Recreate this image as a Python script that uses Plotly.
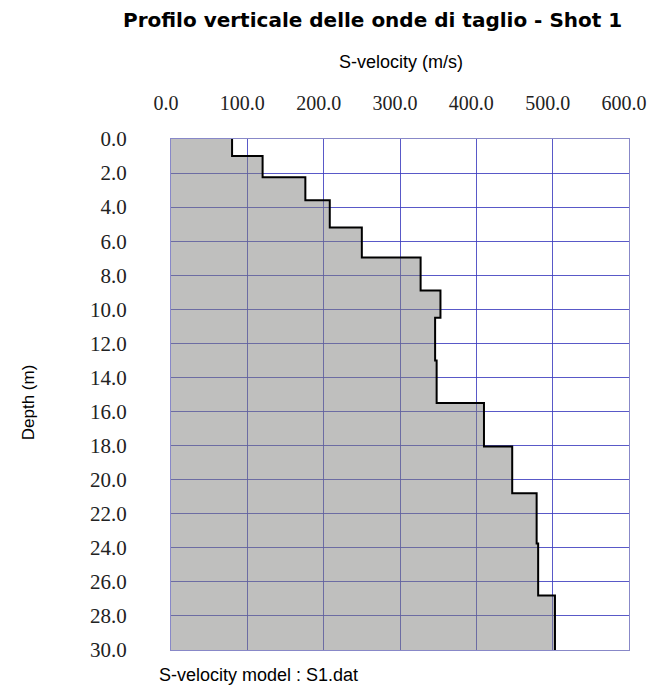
import plotly.graph_objects as go

# Layer boundaries (m) and S-wave velocity of each layer (m/s)
depth_bounds = [0.0, 1.0, 2.25, 3.6, 5.2, 6.95, 8.9, 10.5, 13.0, 15.5, 18.05, 20.8, 23.75, 26.8, 30.0]
velocities = [80, 120, 176, 208, 250, 327, 353, 346, 348, 410, 447, 479, 481, 503]

x_ticks = [0, 100, 200, 300, 400, 500, 600]
y_ticks = [0, 2, 4, 6, 8, 10, 12, 14, 16, 18, 20, 22, 24, 26, 28, 30]

# step profile built from the layer arrays
xs, ys = [], []
for i, v in enumerate(velocities):
    xs += [v, v]
    ys += [depth_bounds[i], depth_bounds[i + 1]]

fig = go.Figure()
fig.add_trace(go.Scatter(
    x=xs, y=ys, mode="lines",
    line=dict(color="black", width=2),
    fill="tozerox", fillcolor="rgba(128,128,126,0.5)",
    hoverinfo="skip", showlegend=False,
))

serif = "Liberation Serif, Times New Roman, serif"
sans = "Liberation Sans, Arial, sans-serif"
grid = "rgba(60,60,190,0.85)"

fig.update_layout(
    width=640, height=679,
    margin=dict(l=163, r=19, t=131, b=37, autoexpand=False),
    paper_bgcolor="white", plot_bgcolor="white",
    xaxis=dict(
        side="top", range=[0, 600], tickvals=x_ticks,
        ticktext=[f"{v:.1f}" for v in x_ticks],
        tickfont=dict(family=serif, size=20, color="#222"),
        showgrid=True, gridcolor=grid, gridwidth=1,
        showline=True, linecolor="#8888c8", linewidth=1, mirror=True,
        ticks="", ticklabelstandoff=20, ticklabelshift=-5, zeroline=False,
        ticklabeloverflow="allow", automargin=False,
    ),
    yaxis=dict(
        range=[30, 0], tickvals=y_ticks,
        ticktext=[f"{v:.1f}" for v in y_ticks],
        tickfont=dict(family=serif, size=21, color="#222"),
        showgrid=True, gridcolor=grid, gridwidth=1,
        showline=True, linecolor="#8888c8", linewidth=1, mirror=True,
        ticks="", ticklabelstandoff=39, zeroline=False,
        ticklabeloverflow="allow", automargin=False,
    ),
    annotations=[
        dict(text="<b>Profilo verticale delle onde di taglio - Shot 1</b>",
             xref="paper", yref="paper", x=0.441, y=1.233,
             xanchor="center", yanchor="middle",
             showarrow=False, font=dict(family="DejaVu Sans", size=20, color="black")),
        dict(text="S-velocity (m/s)", xref="paper", yref="paper", x=0.502, y=1.1507,
             xanchor="center", yanchor="middle",
             showarrow=False, font=dict(family=sans, size=18, color="black")),
        dict(text="Depth (m)", xref="paper", yref="paper", x=-0.312, y=0.485,
             xanchor="center", yanchor="middle",
             textangle=-90, showarrow=False, font=dict(family=sans, size=17, color="black")),
        dict(text="S-velocity model : S1.dat", xref="paper", yref="paper",
             x=-0.028, y=-0.049, xanchor="left", yanchor="middle", showarrow=False,
             borderpad=0, font=dict(family=sans, size=18, color="black")),
    ],
)

fig.write_html("out.html", config={"displayModeBar": False})
